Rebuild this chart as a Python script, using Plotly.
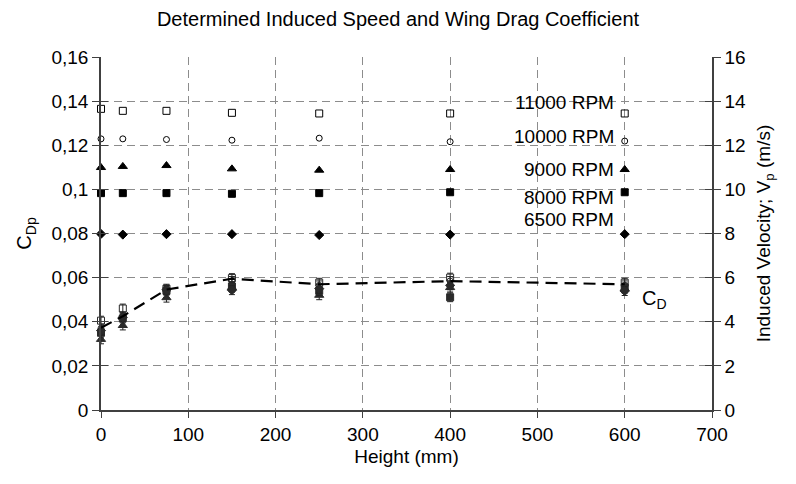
import plotly.graph_objects as go

heights = [0, 25, 75, 150, 250, 400, 600]

# Induced velocity (m/s), right axis
v_11000 = [13.65, 13.56, 13.56, 13.47, 13.44, 13.44, 13.44]
v_10000 = [12.29, 12.29, 12.26, 12.23, 12.32, 12.16, 12.19]
v_9000 = [10.99, 11.04, 11.08, 10.93, 10.87, 10.90, 10.90]
v_8000 = [9.83, 9.83, 9.83, 9.80, 9.83, 9.87, 9.87]
v_6500 = [7.98, 7.95, 7.97, 7.97, 7.93, 7.95, 7.97]

# Wing drag coefficient (left axis)
cd_11000 = [0.0405, 0.0460, 0.0550, 0.0598, 0.0577, 0.0600, 0.0577]
cd_10000 = [0.0370, 0.0425, 0.0545, 0.0585, 0.0565, 0.0585, 0.0565]
cd_9000 = [0.0320, 0.0383, 0.0509, 0.0555, 0.0520, 0.0555, 0.0550]
cd_8000 = [0.0350, 0.0415, 0.0540, 0.0560, 0.0540, 0.0511, 0.0555]
cd_6500 = [0.0360, 0.0420, 0.0545, 0.0543, 0.0550, 0.0565, 0.0539]
cd_err = [0.002, 0.002, 0.002, 0.002, 0.002, 0.002, 0.002]
cd_mean = [0.0373, 0.0425, 0.0546, 0.0595, 0.0570, 0.0584, 0.0570]

rpm_labels = ["11000 RPM", "10000 RPM", "9000 RPM", "8000 RPM", "6500 RPM"]
rpm_label_y = [0.1396, 0.1239, 0.109, 0.0965, 0.0862]

FONT = "Liberation Sans, Arial, sans-serif"

markers = [
    ("square-open", 7, v_11000, cd_11000),
    ("circle-open", 6, v_10000, cd_10000),
    ("triangle-up", 8, v_9000, cd_9000),
    ("square", 7, v_8000, cd_8000),
    ("diamond", 7, v_6500, cd_6500),
]

fig = go.Figure()

# CD markers with error bars
for sym, sz, v, cd in markers:
    fig.add_trace(go.Scatter(
        x=heights, y=cd, mode="markers", yaxis="y",
        marker=dict(symbol=sym, size=sz, color="#2a2a2a", line=dict(color="#2a2a2a", width=1)),
        error_y=dict(type="data", array=cd_err, color="#222222", thickness=1, width=3),
        cliponaxis=False, showlegend=False))

# CD dashed line
fig.add_trace(go.Scatter(
    x=heights, y=cd_mean, mode="lines", yaxis="y",
    line=dict(color="black", width=2.2, dash="12px,7px"),
    showlegend=False))

# Velocity markers
for sym, sz, v, cd in markers:
    fig.add_trace(go.Scatter(
        x=heights, y=v, mode="markers", yaxis="y2",
        marker=dict(symbol=sym, size=sz, color="black", line=dict(color="black", width=1)),
        cliponaxis=False, showlegend=False))

for lab, yy in zip(rpm_labels, rpm_label_y):
    fig.add_annotation(x=590, y=yy, xref="x", yref="y", text=lab, showarrow=False,
                       xanchor="right", yanchor="middle", font=dict(size=19, color="black", family=FONT))

fig.add_annotation(x=617, y=0.0501, xref="x", yref="y", text="C<sub>D</sub>", showarrow=False,
                   xanchor="left", yanchor="middle", font=dict(size=20, color="black", family=FONT))

grid = dict(showgrid=True, gridcolor="#8c8c8c", gridwidth=1, griddash="8px,5px")

fig.update_layout(
    width=796, height=484,
    margin=dict(l=101, r=84, t=57, b=74, autoexpand=False),
    paper_bgcolor="white", plot_bgcolor="white",
    font=dict(family=FONT, size=19, color="black"),
    title=dict(text="Determined Induced Speed and Wing Drag Coefficient", x=0.5, xanchor="center",
               y=0.96, yanchor="middle", font=dict(size=20, family=FONT)),
    xaxis=dict(range=[0, 700], dtick=100, tick0=0, **grid,
               showline=True, linecolor="#404040", linewidth=1.5, ticks="outside", ticklen=6,
               tickcolor="#404040", zeroline=False, tickfont=dict(size=19),
               title=dict(text="Height (mm)", standoff=6, font=dict(size=19))),
    yaxis=dict(range=[0, 0.16], **grid,
               showline=True, linecolor="#404040", linewidth=1.5, ticks="outside", ticklen=7,
               tickcolor="#404040", zeroline=False, tickfont=dict(size=19),
               title=dict(text="C<sub>Dp</sub>", standoff=14, font=dict(size=20))),
    yaxis2=dict(range=[0, 16], dtick=2, tick0=0, overlaying="y", side="right", anchor="x",
                showgrid=False, showline=True, linecolor="#404040", linewidth=1.5,
                ticks="outside", ticklen=7, tickcolor="#404040", zeroline=False, tickfont=dict(size=19),
                title=dict(text="Induced Velocity; V<sub>p</sub> (m/s)", standoff=12, font=dict(size=19))),
    yaxis3=dict(range=[0, 0.16], dtick=0.02, overlaying="y", side="left", anchor="x",
                showgrid=False, showticklabels=False, ticks="inside", ticklen=7,
                tickcolor="#404040", zeroline=False, showline=False),
    yaxis4=dict(range=[0, 16], dtick=2, overlaying="y", side="right", anchor="x",
                showgrid=False, showticklabels=False, ticks="inside", ticklen=7,
                tickcolor="#404040", zeroline=False, showline=False),
    separators=",.",
)

# dummy traces to activate overlay tick axes
fig.add_trace(go.Scatter(x=[None], y=[None], yaxis="y3", showlegend=False, hoverinfo="skip"))
fig.add_trace(go.Scatter(x=[None], y=[None], yaxis="y4", showlegend=False, hoverinfo="skip"))

tickvals = [0, 0.02, 0.04, 0.06, 0.08, 0.10, 0.12, 0.14, 0.16]
ticktext = ["0", "0,02", "0,04", "0,06", "0,08", "0,1", "0,12", "0,14", "0,16"]
fig.update_layout(yaxis=dict(tickmode="array", tickvals=tickvals, ticktext=ticktext))

fig.write_html("out.html")
